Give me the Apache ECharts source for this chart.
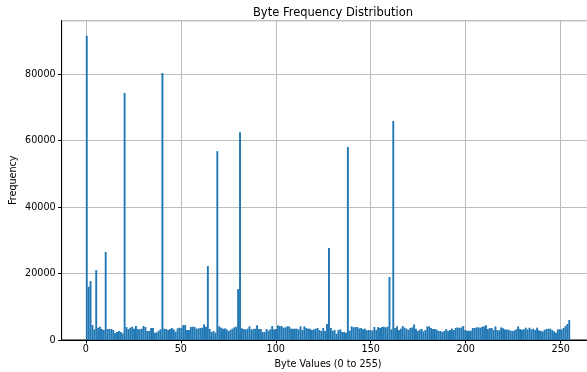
<!DOCTYPE html>
<html>
<head>
<meta charset="utf-8">
<script src="https://cdn.jsdelivr.net/npm/echarts@6/dist/echarts.min.js"></script>
<style>
  html, body { margin: 0; padding: 0; background: #fff; }
  #chart { width: 587px; height: 372px; }
</style>
</head>
<body>
<div id="chart"></div>
<script>
// counts per byte value (bins 0..255)
const counts0to63 = [
  91500, 16000, 17700, 4500, 3200, 21000, 3700, 4000, 3300, 3000, 26500, 3300, 3300, 3300, 3000, 2100,
  2400, 2700, 2400, 2000, 74300, 3900, 3300, 3700, 4000, 3400, 4200, 3300, 3200, 3400, 4200, 3900,
  2700, 2700, 3600, 3600, 2200, 2300, 2800, 3200, 80300, 3400, 3300, 3000, 3300, 3600, 3200, 2500,
  3500, 3700, 3600, 4500, 4500, 3000, 3000, 3900, 4000, 3900, 3400, 3500, 3600, 3700, 4700, 4000
];
const counts64to127 = [
  22250, 3300, 2400, 2700, 2200, 56800, 4100, 3700, 3400, 3500, 3200, 2700, 3100, 3400, 3800, 4000,
  15300, 62500, 3500, 3300, 3200, 3400, 4100, 3200, 3300, 3400, 4400, 3300, 3300, 2400, 2400, 3300,
  2800, 3200, 4200, 3200, 3300, 4400, 4200, 4200, 3700, 3800, 4100, 4100, 3400, 3400, 3400, 3400,
  3200, 4100, 3000, 4100, 3600, 3400, 3400, 3000, 3200, 3400, 3600, 3000, 2700, 3600, 2700, 4800
];
const counts128to191 = [
  27700, 3600, 2800, 3000, 1900, 3000, 3200, 2400, 2400, 2200, 58050, 2800, 4100, 3800, 3900, 3900,
  3500, 3600, 3200, 3400, 2900, 3000, 2900, 2900, 3900, 3000, 3900, 3600, 3900, 4000, 3800, 4000,
  18950, 3200, 65860, 3600, 4100, 3000, 3400, 4200, 3700, 3400, 3100, 3600, 3800, 4700, 3400, 2700,
  3100, 3300, 2600, 3000, 4100, 4100, 3600, 3300, 3300, 3100, 2700, 2700, 2400, 2700, 3300, 2700
];
const counts192to255 = [
  3000, 3400, 3000, 3600, 3800, 3600, 3800, 4200, 3000, 2800, 2800, 2800, 3600, 3600, 3800, 3800,
  3700, 4000, 4100, 4400, 3300, 3600, 3600, 3000, 4100, 3000, 2900, 3800, 3500, 3200, 3100, 3100,
  2800, 2700, 2900, 3200, 4100, 3300, 3100, 3200, 3700, 3200, 3700, 3200, 3400, 3000, 3700, 2900,
  2700, 2600, 3100, 3300, 3400, 3400, 3000, 2600, 2200, 3200, 3200, 3200, 3600, 4200, 4800, 6000
];
const byteCounts = counts0to63.concat(counts64to127, counts128to191, counts192to255);

const xTickValues = [0, 50, 100, 150, 200, 250];
const yTickStep = 20000;
const binWidth = 255 / 256;

// each bar: [left edge, right edge, count]
const barData = byteCounts.map((v, k) => [k * binWidth, (k + 1) * binWidth, v]);

const font = 'DejaVu Sans';
const chart = echarts.init(document.getElementById('chart'), null, { renderer: 'canvas' });

chart.setOption({
  animation: false,
  backgroundColor: '#fff',
  title: {
    text: 'Byte Frequency Distribution',
    left: 328,
    top: 2,
    textAlign: 'center',
    textStyle: { fontFamily: font, fontSize: 11.5, fontWeight: 'normal', color: '#000' }
  },
  grid: {
    left: 61.6, right: -7.4, top: 20.6, bottom: 32,
    containLabel: false,
    outerBoundsMode: 'none',
    show: true, borderColor: '#000', borderWidth: 1, backgroundColor: 'transparent'
  },
  xAxis: {
    type: 'value',
    min: -12.75,
    max: 267.75,
    name: 'Byte Values (0 to 255)',
    nameLocation: 'middle',
    nameGap: 19,
    nameMoveOverlap: false,
    nameTextStyle: { fontFamily: font, fontSize: 9.6, color: '#000' },
    axisLine: { show: true, onZero: false, lineStyle: { color: '#000', width: 1 } },
    axisTick: { show: true, length: 3.5, customValues: xTickValues, lineStyle: { color: '#000' } },
    axisLabel: { customValues: xTickValues, margin: 4.5, fontFamily: font, fontSize: 9.6, color: '#000' },
    splitLine: { show: true, lineStyle: { color: '#bdbdbd', width: 1 } }
  },
  yAxis: {
    type: 'value',
    min: 0,
    max: 96075,
    interval: yTickStep,
    name: 'Frequency',
    nameLocation: 'middle',
    nameGap: 43,
    nameMoveOverlap: false,
    nameTextStyle: { fontFamily: font, fontSize: 9.6, color: '#000' },
    axisLine: { show: true, onZero: false, lineStyle: { color: '#000', width: 1 } },
    axisTick: { show: true, length: 3.5, lineStyle: { color: '#000' } },
    axisLabel: {
      margin: 6, fontFamily: font, fontSize: 9.6, color: '#000',
      showMaxLabel: false,
      formatter: v => (v % yTickStep === 0 ? String(v) : '')
    },
    splitLine: { show: true, lineStyle: { color: '#bdbdbd', width: 1 } }
  },
  series: [{
    type: 'custom',
    data: barData,
    encode: { x: [0, 1], y: 2 },
    renderItem: function (params, api) {
      const p0 = api.coord([api.value(0), api.value(2)]);
      const p1 = api.coord([api.value(1), 0]);
      return {
        type: 'rect',
        shape: { x: p0[0], y: p0[1], width: p1[0] - p0[0], height: p1[1] - p0[1] },
        style: { fill: '#1f77b4' }
      };
    },
    z: 1
  }]
});
</script>
</body>
</html>
